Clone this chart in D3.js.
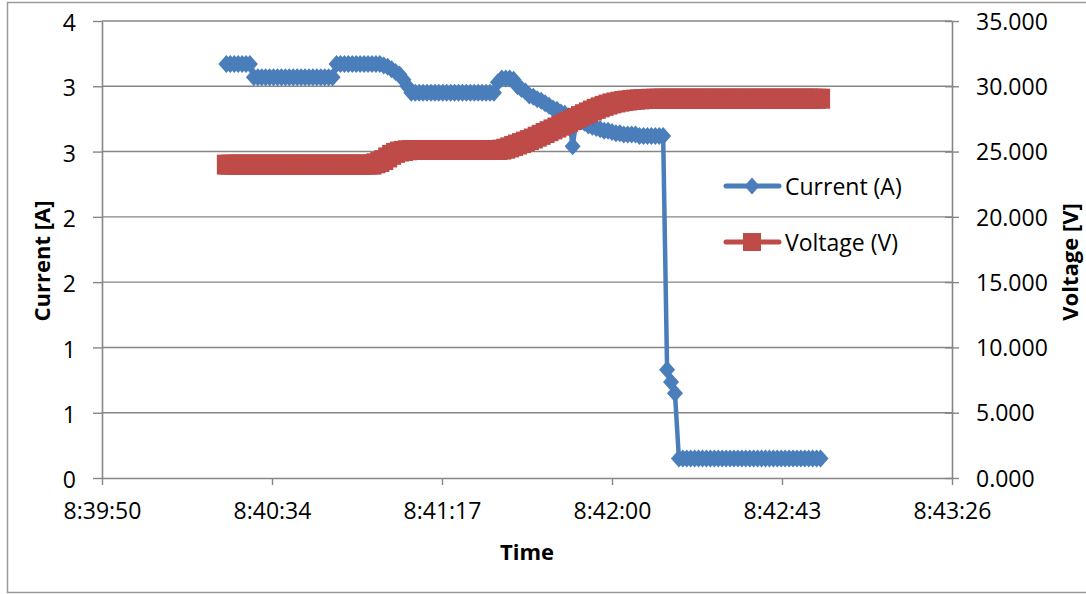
<!DOCTYPE html>
<html>
<head>
<meta charset="utf-8">
<script src="https://cdn.jsdelivr.net/npm/d3@7"></script>
<style>
  html, body { margin: 0; padding: 0; background: #fff; }
  svg { display: block; }
  text { font-family: 'Open Sans', 'Noto Sans', sans-serif; fill: #000; }
</style>
</head>
<body>
<svg id="chart" width="1086" height="594"></svg>
<script>
// ---- data (time of sample in seconds since midnight, 1 s logger interval) ----
const startSeconds = 31222;      // 8:40:22
const sampleStep = 1;            // seconds between samples

const currentA = [
  3.17,3.17,3.17,3.17,3.17,3.17,3.17,
  3.07,3.07,3.07,3.07,3.07,3.07,3.07,3.07,3.07,3.07,3.07,3.07,3.07,3.07,3.07,3.07,3.07,3.07,3.07,3.07,3.07,
  3.17,3.17,3.17,3.17,3.17,3.17,3.17,3.17,3.17,3.17,3.17,
  3.17,3.16,3.15,3.13,3.11,3.09,3.05,3.00,
  2.95,2.95,2.95,2.95,2.95,2.95,2.95,2.95,2.95,2.95,2.95,2.95,2.95,2.95,2.95,2.95,2.95,2.95,2.95,2.95,2.95,2.95,
  3.03,3.06,3.06,3.06,3.05,
  3.00,2.98,2.96,2.93,2.92,2.90,2.89,2.87,2.85,2.83,2.82,2.80,2.79,2.77,
  2.54,
  2.75,2.73,2.72,2.70,2.69,2.68,2.67,2.66,2.66,2.65,2.64,2.64,
  2.63,2.63,2.63,2.63,
  2.62,2.62,2.62,2.62,2.62,2.62,2.62,
  0.83,0.735,0.65,
  0.15,0.15,0.15,0.15,0.15,0.15,0.15,0.15,0.15,0.15,0.15,0.15,0.15,0.15,0.15,0.15,0.15,0.15,0.15,0.15,
  0.15,0.15,0.15,0.15,0.15,0.15,0.15,0.15,0.15,0.15,0.15,0.15,0.15,0.15,0.15,0.15,0.15
];

const voltageV = [
  24.0,24.0,24.0,24.0,24.0,24.0,24.0,24.0,24.0,24.0,24.0,24.0,24.0,24.0,24.0,24.0,24.0,24.0,24.0,24.0,
  24.0,24.0,24.0,24.0,24.0,24.0,24.0,24.0,24.0,24.0,24.0,24.0,24.0,24.0,24.0,24.0,24.0,
  24.0,24.1,24.2,24.35,24.55,24.75,24.9,25.0,25.05,25.1,
  25.12,25.12,25.12,25.12,25.12,25.12,25.12,25.12,25.12,25.12,25.12,25.12,25.12,25.12,25.12,25.12,25.12,25.12,25.12,25.12,25.12,25.12,
  25.12,25.15,25.22,25.32,25.43,25.54,25.65,25.76,25.88,26.0,
  26.14,26.28,26.42,26.56,26.7,26.84,26.98,27.12,27.27,27.42,
  27.57,27.72,27.86,28.0,28.14,28.27,28.39,28.5,28.6,28.69,
  28.76,28.82,28.87,28.91,28.95,28.98,29.0,29.02,29.03,29.04,
  29.05,29.05,29.05,29.05,29.05,29.05,29.05,29.05,29.05,29.05,29.05,29.05,29.05,29.05,29.05,29.05,29.05,29.05,29.05,29.05,
  29.05,29.05,29.05,29.05,29.05,29.05,29.05,29.05,29.05,29.05,29.05,29.05,29.05,29.05,29.05,29.05,29.05,29.05,29.05,29.05,
  29.05,29.05,29.05
];

// axis ticks
const timeTickValues = [31190.4, 31233.6, 31276.8, 31320.0, 31363.2, 31406.4];
const timeTickLabels = ["8:39:50","8:40:34","8:41:17","8:42:00","8:42:43","8:43:26"];
const currentTickValues = [0,0.5,1,1.5,2,2.5,3,3.5];
const currentTickLabels = ["0","1","1","2","2","3","3","4"];
const voltageTickValues = [0,5,10,15,20,25,30,35];
const voltageTickLabels = ["0.000","5.000","10.000","15.000","20.000","25.000","30.000","35.000"];

const seriesNames = ["Current (A)", "Voltage (V)"];
const axisTitles = { x: "Time", left: "Current [A]", right: "Voltage [V]" };

// ---- layout ----
const svg = d3.select("#chart");
const L = 102, R = 952, T = 21, B = 478;
const gridColor = "#868686";
const blue = "#4A7EBB", red = "#BE4B48";
const fontSize = 23;

const times = currentA.map((_, i) => startSeconds + i * sampleStep);
const x = d3.scaleLinear().domain([timeTickValues[0], timeTickValues[timeTickValues.length-1]]).range([L, R]);
const yL = d3.scaleLinear().domain([0, 3.5]).range([B, T]);
const yR = d3.scaleLinear().domain([0, 35]).range([B, T]);

// chart border
svg.append("rect").attr("x", 7.5).attr("y", 2.5).attr("width", 1100).attr("height", 590)
  .attr("fill", "none").attr("stroke", "#9a9a9a").attr("stroke-width", 1.5);

// gridlines
svg.append("g").selectAll("line").data(currentTickValues.filter(d => d > 0)).join("line")
  .attr("x1", L).attr("x2", R).attr("y1", d => yL(d)).attr("y2", d => yL(d))
  .attr("stroke", gridColor).attr("stroke-width", 1.4);

function styleAxis(g) {
  g.select(".domain").attr("stroke", gridColor).attr("stroke-width", 1.6);
  g.selectAll(".tick line").attr("stroke", gridColor).attr("stroke-width", 1.4);
  g.selectAll(".tick text").style("font-size", fontSize + "px").attr("fill", "#000")
    .style("font-family", "'Open Sans', sans-serif");
}

// left axis
const gL = svg.append("g").attr("transform", `translate(${L},0)`)
  .call(d3.axisLeft(yL).tickValues(currentTickValues).tickSize(9).tickSizeOuter(0).tickPadding(17)
    .tickFormat((d, i) => currentTickLabels[i]));
styleAxis(gL);
gL.selectAll(".tick text").attr("dy", "0.42em");

// right axis
const gR = svg.append("g").attr("transform", `translate(${R},0)`)
  .call(d3.axisRight(yR).tickValues(voltageTickValues).tickSize(7).tickSizeOuter(0).tickPadding(17)
    .tickFormat((d, i) => voltageTickLabels[i]));
styleAxis(gR);
gR.selectAll(".tick line").attr("x1", -7);
gR.selectAll(".tick text").attr("dy", "0.36em");

// bottom axis
const gB = svg.append("g").attr("transform", `translate(0,${B})`)
  .call(d3.axisBottom(x).tickValues(timeTickValues).tickSize(7).tickSizeOuter(0).tickPadding(18)
    .tickFormat((d, i) => timeTickLabels[i]));
styleAxis(gB);

// axis titles
svg.append("text").attr("x", (L + R) / 2).attr("y", 560).attr("text-anchor", "middle")
  .style("font-size", "22px").style("font-weight", "bold").text(axisTitles.x);
svg.append("text").attr("transform", "translate(50,261) rotate(-90)").attr("text-anchor", "middle")
  .style("font-size", "22px").style("font-weight", "bold").text(axisTitles.left);
svg.append("text").attr("transform", "translate(1078,262) rotate(-90)").attr("text-anchor", "middle")
  .style("font-size", "22px").style("font-weight", "bold").text(axisTitles.right);

// series
const diamond = (cx, cy) => `M${cx},${cy-9}L${cx+8},${cy}L${cx},${cy+9}L${cx-8},${cy}Z`;

const curData = times.map((t, i) => ({ t, v: currentA[i] }));
const volData = times.map((t, i) => ({ t, v: voltageV[i] }));

const gS = svg.append("g");
gS.append("path").datum(curData)
  .attr("d", d3.line().x(d => x(d.t)).y(d => yL(d.v)))
  .attr("fill", "none").attr("stroke", blue).attr("stroke-width", 4.5).attr("stroke-linejoin", "round");
gS.append("g").selectAll("path").data(curData).join("path")
  .attr("d", d => diamond(x(d.t), yL(d.v))).attr("fill", blue);

gS.append("path").datum(volData)
  .attr("d", d3.line().x(d => x(d.t)).y(d => yR(d.v)))
  .attr("fill", "none").attr("stroke", red).attr("stroke-width", 4.5).attr("stroke-linejoin", "round");
gS.append("g").selectAll("rect").data(volData).join("rect")
  .attr("x", d => x(d.t) - 9.5).attr("y", d => yR(d.v) - 10).attr("width", 19).attr("height", 20)
  .attr("fill", red);

// legend
const legend = svg.append("g");
const legendItems = [
  { name: seriesNames[0], color: blue, y: 186, shape: "diamond" },
  { name: seriesNames[1], color: red, y: 242, shape: "square" }
];
legendItems.forEach(it => {
  legend.append("line").attr("x1", 726).attr("x2", 779).attr("y1", it.y).attr("y2", it.y)
    .attr("stroke", it.color).attr("stroke-width", 5).attr("stroke-linecap", "round");
  if (it.shape === "diamond") {
    legend.append("path").attr("d", `M752,${it.y-8.5}L759.5,${it.y}L752,${it.y+8.5}L744.5,${it.y}Z`).attr("fill", it.color);
  } else {
    legend.append("rect").attr("x", 743).attr("y", it.y - 9).attr("width", 18).attr("height", 18).attr("fill", it.color);
  }
  legend.append("text").attr("x", 785).attr("y", it.y + 9).style("font-size", fontSize + "px").text(it.name);
});
</script>
</body>
</html>
